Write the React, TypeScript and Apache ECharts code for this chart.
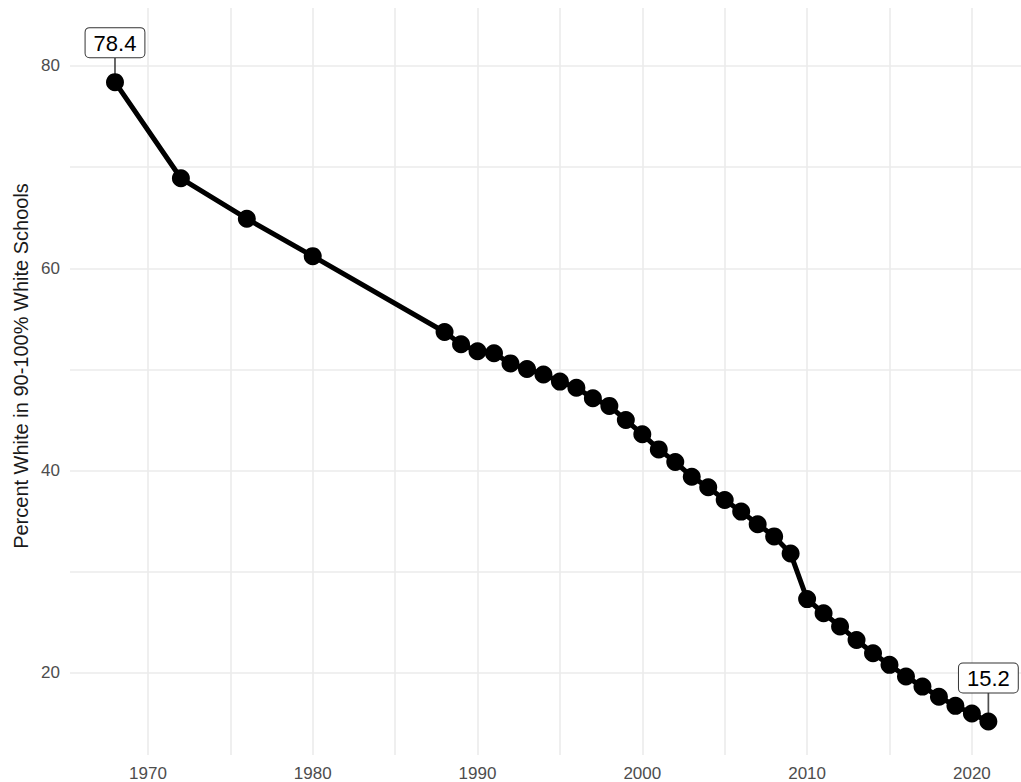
import React, { useEffect, useRef } from "react";
import * as echarts from "echarts";

const years = [1968, 1972, 1976, 1980, 1988, 1989, 1990, 1991, 1992, 1993, 1994, 1995, 1996, 1997, 1998, 1999, 2000, 2001, 2002, 2003, 2004, 2005, 2006, 2007, 2008, 2009, 2010, 2011, 2012, 2013, 2014, 2015, 2016, 2017, 2018, 2019, 2020, 2021];
const values = [78.4, 68.9, 64.9, 61.2, 53.7, 52.5, 51.8, 51.6, 50.6, 50.05, 49.5, 48.8, 48.2, 47.15, 46.4, 45.0, 43.6, 42.1, 40.85, 39.4, 38.35, 37.1, 35.95, 34.7, 33.5, 31.8, 27.3, 25.9, 24.6, 23.25, 21.95, 20.8, 19.65, 18.65, 17.65, 16.75, 16.0, 15.2];
const labeledYears = [1968, 2021];
const labelGaps = [25, 29];

const xMajorTicks = [1970, 1980, 1990, 2000, 2010, 2020];
const xMinorTicks = [1975, 1985, 1995, 2005, 2015];
const yMajorTicks = [20, 40, 60, 80];
const yMinorTicks = [30, 50, 70];

const yTitle = "Percent White in 90-100% White Schools";

const FONT = "'Liberation Sans', Arial, Helvetica, sans-serif";
const DOT = 18;

export default function App() {
  const ref = useRef<HTMLDivElement>(null);
  useEffect(() => {
    if (!ref.current) return;
    const chart = echarts.init(ref.current, undefined, { renderer: "svg" });
    const points = years.map((y, i) => {
      const li = labeledYears.indexOf(y);
      const item: any = { value: [y, values[i]] };
      if (li >= 0) {
        item.label = {
          show: true,
          position: "top",
          distance: labelGaps[li] - DOT / 2,
          formatter: (p: any) => p.value[1].toFixed(1),
          fontFamily: FONT,
          fontSize: 22,
          lineHeight: 22,
          color: "#000",
          backgroundColor: "#fff",
          borderColor: "#333",
          borderWidth: 1,
          borderRadius: 4,
          padding: [4, 8, 3, 8],
        };
      }
      return item;
    });
    const leaders = labeledYears.map((y, li) => {
      const i = years.indexOf(y);
      return {
        value: [y, values[i]],
        symbolSize: [1.7, labelGaps[li]],
        symbolOffset: [0, -labelGaps[li] / 2],
      };
    });
    const allX = [...xMajorTicks, ...xMinorTicks].sort((a, b) => a - b);
    const allY = [...yMajorTicks, ...yMinorTicks].sort((a, b) => a - b);
    chart.setOption({
      animation: false,
      backgroundColor: "#fff",
      grid: { left: 70, right: 0, top: 8, bottom: 27, containLabel: false },
      graphic: [
        {
          type: "text",
          x: 21,
          y: 366,
          rotation: Math.PI / 2,
          silent: true,
          style: {
            text: yTitle,
            fontFamily: FONT,
            fontSize: 20,
            fill: "#1A1A1A",
            align: "center",
            verticalAlign: "middle",
          },
        },
      ],
      xAxis: {
        type: "value",
        min: 1965.27,
        max: 2022.98,
        axisLine: { show: false },
        axisTick: { show: false, customValues: allX },
        axisLabel: {
          customValues: xMajorTicks,
          formatter: (v: number) => String(v),
          color: "#4D4D4D",
          fontSize: 17,
          fontFamily: FONT,
          margin: 10,
        },
        splitLine: { show: true, lineStyle: { color: "#EBEBEB", width: 1.6 } },
      },
      yAxis: {
        type: "value",
        min: 11.89,
        max: 85.73,
        axisLine: { show: false },
        axisTick: { show: false, customValues: allY },
        axisLabel: {
          customValues: yMajorTicks,
          formatter: (v: number) => String(v),
          color: "#4D4D4D",
          fontSize: 17,
          fontFamily: FONT,
          margin: 10,
        },
        splitLine: { show: true, lineStyle: { color: "#EBEBEB", width: 1.6 } },
      },
      series: [
        {
          type: "scatter",
          data: leaders,
          symbol: "rect",
          itemStyle: { color: "#222" },
          silent: true,
          z: 1,
        },
        {
          type: "line",
          data: points,
          symbol: "circle",
          symbolSize: DOT,
          showSymbol: true,
          lineStyle: { color: "#000", width: 5 },
          itemStyle: { color: "#000" },
          silent: true,
          z: 2,
        },
      ],
    });
    return () => chart.dispose();
  }, []);
  return (
    <div
      ref={ref}
      style={{ position: "fixed", left: 0, top: 0, width: 1021, height: 782 }}
    />
  );
}
